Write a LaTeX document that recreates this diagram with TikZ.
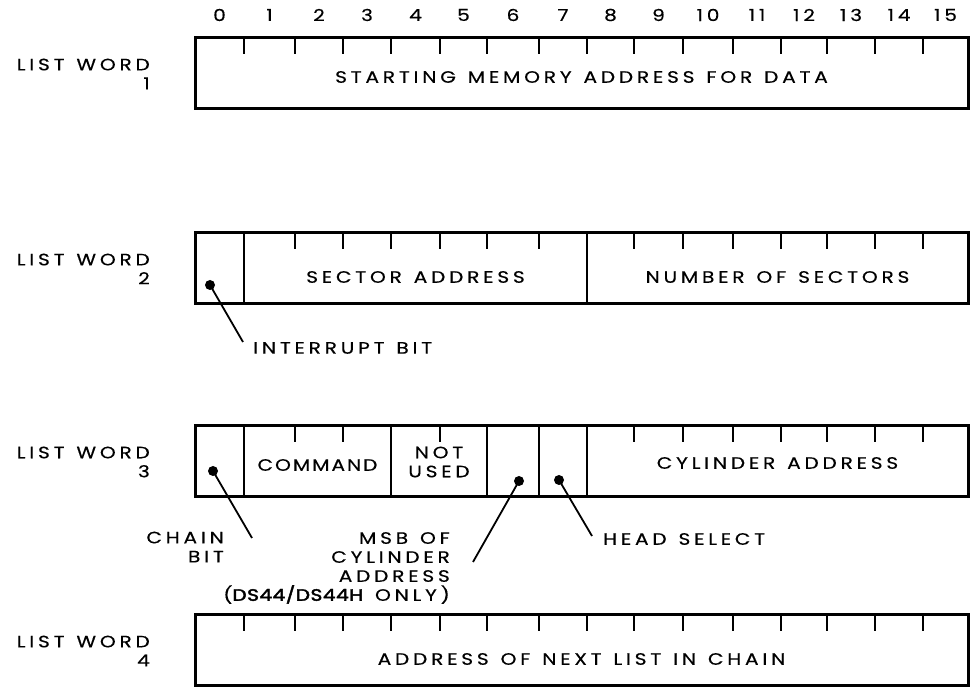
\documentclass[tikz,border=0pt]{standalone}
\usepackage{fontspec}
\setmainfont{Poppins}
\newfontfamily\lwfont[LetterSpace=23, WordSpace=1.3, FakeStretch=1.22, FakeBold=0.4]{Poppins}
\newfontfamily\lwtight[LetterSpace=12, FakeStretch=1.22, FakeBold=0.4]{Poppins}
\newfontfamily\lwbold[LetterSpace=3, FakeStretch=1.22, FakeBold=2.5]{Poppins}
\usepackage{tikz}
\usetikzlibrary{calc, positioning}

% ticks along the top edge of one list word
\newcommand{\bitticks}[2]{%
  \foreach \k in {#2} \draw[tick] (b\k |- #1) -- ++(0,-16);}

\begin{document}
\begin{tikzpicture}[x=1pt, y=1pt,
    frame/.style={line width=3pt, line join=miter},
    divider/.style={line width=2.8pt},
    tick/.style={line width=2pt},
    leader/.style={line width=1.8pt},
    txt/.style={font=\lwfont\fontsize{16.5}{19}\selectfont, inner sep=0pt},
    bitnum/.style={txt},
    wordlabel/.style={txt, align=right, anchor=east}]

    \useasboundingbox (0,0) rectangle (979,687);

    % =================================================================
    % 1. BIT BOUNDARIES AND WORD ROWS
    % =================================================================
    \foreach \k/\x in {0/195,1/244,2/295,3/343,4/391,5/440,6/487,7/539,
                       8/587,9/634,10/683,11/733,12/781,13/827,14/875,15/923,16/968}
        \coordinate (b\k) at (\x,0);

    \foreach \n/\yt in {1/649, 2/454, 3/261, 4/72} {
        \coordinate (top\n) at (0,\yt);
        \coordinate (bot\n) at (0,\yt-71);
        \draw[frame] (b0 |- top\n) rectangle (b16 |- bot\n);
        \node[wordlabel] (lw\n) at (150,\yt-36) {LIST WORD\\\n};
    }

    % bit numbers over the first word
    \foreach \k [evaluate=\k as \kn using int(\k+1)] in {0,...,15}
        \node[bitnum] (num\k) at ($(b\k)!0.5!(b\kn) + (0,672)$) {\k};

    % =================================================================
    % 2. LIST WORD 1
    % =================================================================
    \bitticks{top1}{1,...,15}
    \node[txt] (startaddr) at ($(b0)!0.5!(b16) + (0,610)$) {STARTING MEMORY ADDRESS FOR DATA};

    % =================================================================
    % 3. LIST WORD 2
    % =================================================================
    \foreach \k in {1,8} \draw[divider] (b\k |- top2) -- (b\k |- bot2);
    \bitticks{top2}{2,3,4,5,6,7,9,10,11,12,13,14,15}
    \node[txt] (sector) at ($(b1)!0.5!(b8) + (0,410)$) {SECTOR ADDRESS};
    \node[txt] (nsect) at ($(b8)!0.5!(b16) + (0,410)$) {NUMBER OF SECTORS};

    % interrupt bit
    \coordinate (intdot) at (210,402);
    \coordinate (intend) at (243,345);
    \fill (intdot) circle (5);
    \draw[leader] (intdot) -- (intend);
    \node[txt, anchor=west] (intlbl) at (253,339) {INTERRUPT BIT};

    % =================================================================
    % 4. LIST WORD 3
    % =================================================================
    \foreach \k in {1,4,6,7,8} \draw[divider] (b\k |- top3) -- (b\k |- bot3);
    \bitticks{top3}{2,3,5,9,10,11,12,13,14,15}
    \node[txt, font=\lwtight\fontsize{16.5}{19}\selectfont] (cmd) at ($(b1)!0.5!(b4) + (0,222)$) {COMMAND};
    \node[txt, align=center] (notused) at ($(b4)!0.5!(b6) + (0,225)$) {NOT\\USED};
    \node[txt] (cyl) at ($(b8)!0.5!(b16) + (0,224)$) {CYLINDER ADDRESS};

    % chain bit
    \coordinate (chaindot) at (213,216);
    \coordinate (chainend) at (252,149);
    \fill (chaindot) circle (5);
    \draw[leader] (chaindot) -- (chainend);
    \node[txt, align=right, anchor=east] (chainlbl) at (224,140) {CHAIN\\BIT};

    % msb of cylinder address
    \coordinate (msbdot) at (519,206);
    \coordinate (msbend) at (473,125);
    \fill (msbdot) circle (5);
    \draw[leader] (msbdot) -- (msbend);
    \node[txt, align=right, anchor=east] (msblbl) at (450,119)
        {MSB OF\\CYLINDER\\ADDRESS\\({\lwbold DS44/DS44H} ONLY)};

    % head select
    \coordinate (headdot) at (559,207);
    \coordinate (headend) at (592,151);
    \fill (headdot) circle (5);
    \draw[leader] (headdot) -- (headend);
    \node[txt, anchor=west] (headlbl) at (603,148) {HEAD SELECT};

    % =================================================================
    % 5. LIST WORD 4
    % =================================================================
    \bitticks{top4}{1,...,15}
    \node[txt] (nextaddr) at ($(b0)!0.5!(b16) + (0,28)$) {ADDRESS OF NEXT LIST IN CHAIN};

\end{tikzpicture}
\end{document}
